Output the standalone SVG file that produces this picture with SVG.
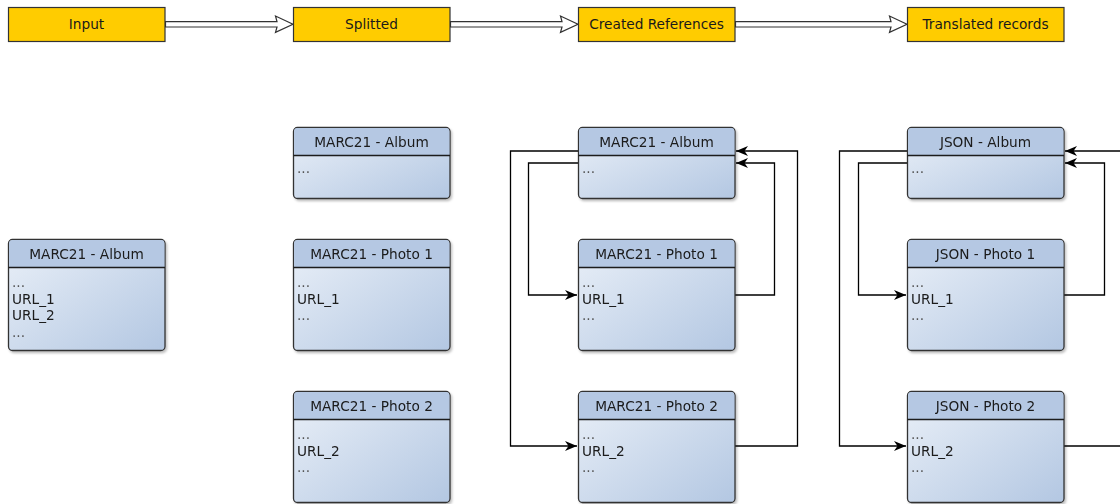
<svg xmlns="http://www.w3.org/2000/svg" width="1120" height="504" viewBox="0 0 1120 504">
<style>
.stage{fill:#FFCC00;stroke:#333;stroke-width:1.2}
.hd{font-family:"DejaVu Sans",sans-serif;font-size:13.7px;fill:#1a1a1a;text-anchor:middle}
.bd{font-family:"DejaVu Sans",sans-serif;font-size:13.7px;fill:#1a1a1a}
.dots{font-family:"DejaVu Sans",sans-serif;font-size:13.7px;fill:#555}
.box{fill:url(#g);stroke:#333;stroke-width:1.3}
.head{fill:#B5C8E3;stroke:none}
.sep{stroke:#1a1a1a;stroke-width:1.3}
.flex{fill:#fff;stroke:#333;stroke-width:1.2}
.c{fill:none;stroke:#000;stroke-width:1.3}
</style>
<defs>
<linearGradient id="g" x1="0" y1="0" x2="1" y2="1">
<stop offset="0" stop-color="#EAF0F8"/>
<stop offset="1" stop-color="#B3C7E2"/>
</linearGradient>
<filter id="sh" x="-10%" y="-10%" width="130%" height="130%">
<feDropShadow dx="1.5" dy="2" stdDeviation="1.2" flood-color="#000" flood-opacity="0.25"/>
</filter>
<marker id="ar" markerWidth="14" markerHeight="12" refX="12" refY="6" orient="auto" markerUnits="userSpaceOnUse">
<path d="M0,1 L12,6 L0,11 L3.5,6 Z" fill="#000"/>
</marker>
</defs>

<g id="flow">
<path class="flex" d="M165.5,21.6 H277 L275.5,16 L293,24.3 L275.5,32.3 L277,27 H165.5 Z"/>
<path class="flex" d="M450.5,21.6 H562 L560.5,16 L578,24.3 L560.5,32.3 L562,27 H450.5 Z"/>
<path class="flex" d="M735.5,21.6 H891 L889.5,16 L907,24.3 L889.5,32.3 L891,27 H735.5 Z"/>
</g>

<g id="stage-input"><rect class="stage" x="8.5" y="7.5" width="156.5" height="34"/><text class="hd" x="86.5" y="29">Input</text></g>
<g id="stage-splitted"><rect class="stage" x="293.5" y="7.5" width="156.5" height="34"/><text class="hd" x="371.5" y="29">Splitted</text></g>
<g id="stage-created"><rect class="stage" x="578.5" y="7.5" width="156.5" height="34"/><text class="hd" x="656.5" y="29">Created References</text></g>
<g id="stage-translated"><rect class="stage" x="907.5" y="7.5" width="156.5" height="34"/><text class="hd" x="985.5" y="29">Translated records</text></g>

<g id="connectors">
<path class="c" d="M578.5,151 H510.5 V446 H577" marker-end="url(#ar)"/>
<path class="c" d="M578.5,163 H528.5 V295 H577" marker-end="url(#ar)"/>
<path class="c" d="M735,295 H774.5 V163 H736" marker-end="url(#ar)"/>
<path class="c" d="M735,446 H797.5 V151 H736" marker-end="url(#ar)"/>
<path class="c" d="M907.5,151 H839.5 V446 H906" marker-end="url(#ar)"/>
<path class="c" d="M907.5,163 H858.5 V295 H906" marker-end="url(#ar)"/>
<path class="c" d="M1064,295 H1104.5 V163 H1065" marker-end="url(#ar)"/>
<path class="c" d="M1064,446 H1125"/>
<path class="c" d="M1125,151 H1065" marker-end="url(#ar)"/>
</g>

<g id="input-album" filter="url(#sh)">
<rect class="box" x="8.5" y="239.5" width="156.5" height="111" rx="4"/>
<path class="head" d="M9.1,267.5 V243.5 Q9.1,240.1 12.5,240.1 H161 Q164.4,240.1 164.4,243.5 V267.5 Z"/>
<line class="sep" x1="8.5" y1="267.5" x2="165" y2="267.5"/>
<text class="hd" x="86.5" y="258.5">MARC21 - Album</text>
<text class="dots" x="12" y="287">...</text>
<text class="bd" x="12" y="303.5">URL_1</text>
<text class="bd" x="12" y="320">URL_2</text>
<text class="dots" x="12" y="336.5">...</text>
</g>

<g id="split-album" filter="url(#sh)">
<rect class="box" x="293.5" y="127.5" width="156.5" height="71" rx="4"/>
<path class="head" d="M294.1,155.5 V131.5 Q294.1,128.1 297.5,128.1 H446 Q449.4,128.1 449.4,131.5 V155.5 Z"/>
<line class="sep" x1="293.5" y1="155.5" x2="450" y2="155.5"/>
<text class="hd" x="371.5" y="146.5">MARC21 - Album</text>
<text class="dots" x="297" y="173">...</text>
</g>

<g id="split-photo1" filter="url(#sh)">
<rect class="box" x="293.5" y="239.5" width="156.5" height="111" rx="4"/>
<path class="head" d="M294.1,267.5 V243.5 Q294.1,240.1 297.5,240.1 H446 Q449.4,240.1 449.4,243.5 V267.5 Z"/>
<line class="sep" x1="293.5" y1="267.5" x2="450" y2="267.5"/>
<text class="hd" x="371.5" y="258.5">MARC21 - Photo 1</text>
<text class="dots" x="297" y="287">...</text>
<text class="bd" x="297" y="303.5">URL_1</text>
<text class="dots" x="297" y="320">...</text>
</g>

<g id="split-photo2" filter="url(#sh)">
<rect class="box" x="293.5" y="391.5" width="156.5" height="111" rx="4"/>
<path class="head" d="M294.1,419.5 V395.5 Q294.1,392.1 297.5,392.1 H446 Q449.4,392.1 449.4,395.5 V419.5 Z"/>
<line class="sep" x1="293.5" y1="419.5" x2="450" y2="419.5"/>
<text class="hd" x="371.5" y="410.5">MARC21 - Photo 2</text>
<text class="dots" x="297" y="439">...</text>
<text class="bd" x="297" y="455.5">URL_2</text>
<text class="dots" x="297" y="472">...</text>
</g>

<g id="ref-album" filter="url(#sh)">
<rect class="box" x="578.5" y="127.5" width="156.5" height="71" rx="4"/>
<path class="head" d="M579.1,155.5 V131.5 Q579.1,128.1 582.5,128.1 H731 Q734.4,128.1 734.4,131.5 V155.5 Z"/>
<line class="sep" x1="578.5" y1="155.5" x2="735" y2="155.5"/>
<text class="hd" x="656.5" y="146.5">MARC21 - Album</text>
<text class="dots" x="582" y="173">...</text>
</g>

<g id="ref-photo1" filter="url(#sh)">
<rect class="box" x="578.5" y="239.5" width="156.5" height="111" rx="4"/>
<path class="head" d="M579.1,267.5 V243.5 Q579.1,240.1 582.5,240.1 H731 Q734.4,240.1 734.4,243.5 V267.5 Z"/>
<line class="sep" x1="578.5" y1="267.5" x2="735" y2="267.5"/>
<text class="hd" x="656.5" y="258.5">MARC21 - Photo 1</text>
<text class="dots" x="582" y="287">...</text>
<text class="bd" x="582" y="303.5">URL_1</text>
<text class="dots" x="582" y="320">...</text>
</g>

<g id="ref-photo2" filter="url(#sh)">
<rect class="box" x="578.5" y="391.5" width="156.5" height="111" rx="4"/>
<path class="head" d="M579.1,419.5 V395.5 Q579.1,392.1 582.5,392.1 H731 Q734.4,392.1 734.4,395.5 V419.5 Z"/>
<line class="sep" x1="578.5" y1="419.5" x2="735" y2="419.5"/>
<text class="hd" x="656.5" y="410.5">MARC21 - Photo 2</text>
<text class="dots" x="582" y="439">...</text>
<text class="bd" x="582" y="455.5">URL_2</text>
<text class="dots" x="582" y="472">...</text>
</g>

<g id="json-album" filter="url(#sh)">
<rect class="box" x="907.5" y="127.5" width="156.5" height="71" rx="4"/>
<path class="head" d="M908.1,155.5 V131.5 Q908.1,128.1 911.5,128.1 H1060 Q1063.4,128.1 1063.4,131.5 V155.5 Z"/>
<line class="sep" x1="907.5" y1="155.5" x2="1064" y2="155.5"/>
<text class="hd" x="985.5" y="146.5">JSON - Album</text>
<text class="dots" x="911" y="173">...</text>
</g>

<g id="json-photo1" filter="url(#sh)">
<rect class="box" x="907.5" y="239.5" width="156.5" height="111" rx="4"/>
<path class="head" d="M908.1,267.5 V243.5 Q908.1,240.1 911.5,240.1 H1060 Q1063.4,240.1 1063.4,243.5 V267.5 Z"/>
<line class="sep" x1="907.5" y1="267.5" x2="1064" y2="267.5"/>
<text class="hd" x="985.5" y="258.5">JSON - Photo 1</text>
<text class="dots" x="911" y="287">...</text>
<text class="bd" x="911" y="303.5">URL_1</text>
<text class="dots" x="911" y="320">...</text>
</g>

<g id="json-photo2" filter="url(#sh)">
<rect class="box" x="907.5" y="391.5" width="156.5" height="111" rx="4"/>
<path class="head" d="M908.1,419.5 V395.5 Q908.1,392.1 911.5,392.1 H1060 Q1063.4,392.1 1063.4,395.5 V419.5 Z"/>
<line class="sep" x1="907.5" y1="419.5" x2="1064" y2="419.5"/>
<text class="hd" x="985.5" y="410.5">JSON - Photo 2</text>
<text class="dots" x="911" y="439">...</text>
<text class="bd" x="911" y="455.5">URL_2</text>
<text class="dots" x="911" y="472">...</text>
</g>
</svg>
